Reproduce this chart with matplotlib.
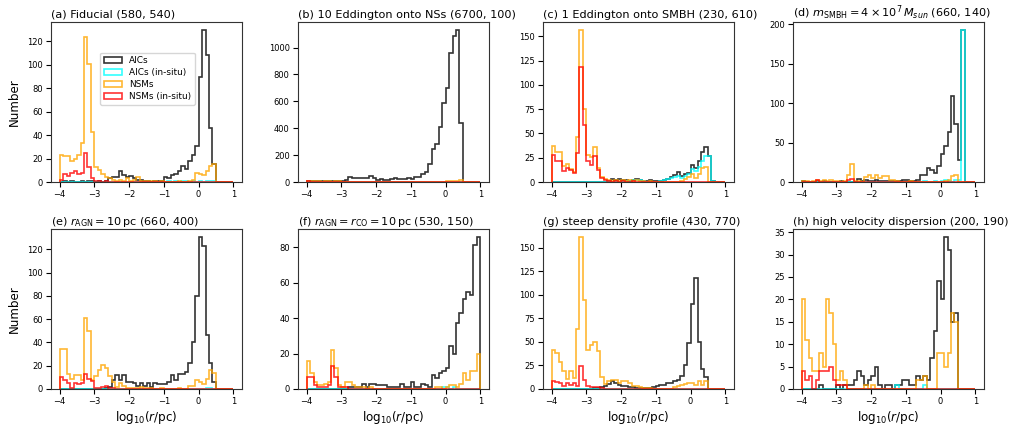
import numpy as np
import matplotlib
matplotlib.use("Agg")
import matplotlib.pyplot as plt
from matplotlib.ticker import MultipleLocator

# bins: 50 bins of width 0.1 from -4 to 1 in log10(r/pc)
bin_lo, bin_hi, nbins = -4.0, 1.0, 50

titles = [
    "(a) Fiducial (580, 540)",
    "(b) 10 Eddington onto NSs (6700, 100)",
    "(c) 1 Eddington onto SMBH (230, 610)",
    r"(d) $m_{\rm SMBH}=4\times10^7\,M_{sun}$ (660, 140)",
    r"(e) $r_{\rm AGN}=10\,{\rm pc}$ (660, 400)",
    r"(f) $r_{\rm AGN}=r_{\rm CO}=10\,{\rm pc}$ (530, 150)",
    "(g) steep density profile (430, 770)",
    "(h) high velocity dispersion (200, 190)",
]
series_labels = ["AICs", "AICs (in-situ)", "NSMs", "NSMs (in-situ)"]
ytick_steps = [20, 200, 25, 50, 20, 20, 25, 5]

# ---------------- (a) Fiducial ----------------
a_aic = [0,1,0,1,0,0,1,0,1,1,  0,1,0,1,3,4,4,9,6,4,  5,3,2,2,1,1,0,1,1,1,
         4,3,6,7,9,14,11,18,23,31,  90,130,108,46,15,0,0,0,0,0]
a_aic_insitu = [0]*31 + [1,0,1,0,1,1,0,1,0,1,0,1,1,1] + [0]*5
a_nsm = [23,22,22,18,20,23,33,124,101,43,  13,10,7,4,3,2,1,2,1,3,  1,2,4,1,1,1,1,1,0,1,
         0,0,0,0,1,0,0,1,2,8,  7,6,9,14,15,0,0,0,0,0]
a_nsm_insitu = [2,7,5,8,9,7,8,25,13,3,  1,1,0,1] + [0]*36

# ---------------- (b) 10 Eddington onto NSs ----------------
b_aic = [8,6,5,6,4,5,5,7,6,5,  10,18,35,28,28,28,28,30,45,32,  18,20,16,18,22,28,22,20,22,30,
         25,35,40,60,78,135,245,280,410,590,  698,957,1088,1133,435,0,0,0,0,0]
b_aic_insitu = [0]*32 + [2,1,0,0,0,0,1] + [0]*11
b_nsm = [6,5,4,5,3,6,4,3,5,4,  2,3,2,1,1,1,0,1,0,0] + [0]*19 + [3,5,6,8,10,12] + [0]*5
b_nsm_insitu = [4,3,2,2,0,0,0,1] + [0]*42

# ---------------- (c) 1 Eddington onto SMBH ----------------
c_aic = [0]*10 + [0,0,0,0,0,0,1,3,2,3,  2,2,1,2,3,2,1,1,2,1,
         1,1,2,3,5,7,10,6,8,9,  18,14,22,31,36,27,1,0,0,0]
c_aic_insitu = [0]*20 + [0,1,1,2,2,2,1,0,0,0,  0,1,2,3,4,5,6,4,6,8,
                         13,11,15,22,27,27,1,0,0,0]
c_nsm = [37,31,31,16,19,13,10,46,157,75,  28,26,36,14,5,3,2,1,2,1,  2,1,2,1,2,1,1,0,1,0,
         0,0,0,0,0,0,0,1,3,5,  8,4,8,14,15,0,0,0,0,0]
c_nsm_insitu = [28,22,22,11,14,12,9,30,118,59,  22,18,27,12,4,2,1,0,1,0,  1,0,0,1] + [0]*26

# ---------------- (d) m_SMBH = 4e7 ----------------
d_aic = [1,0,0,0,1,0,1,0,0,0,  0,1,0,0,0,0,4,1,2,1,  1,2,1,1,1,1,1,1,1,2,
         2,1,1,2,9,9,18,15,11,20,  36,45,63,109,73,28,193,0,0,0]
d_aic_insitu = [0]*35 + [1,0,0,1,0,  1,2,1,0,3,3,193,0,0,0]
d_nsm = [1,1,0,1,2,1,2,1,3,1,  1,0,1,9,23,1,1,0,6,9,  5,9,5,7,8,3,3,1,0,0,
         0,1,0,0,0,0,0,0,0,0,  0,1,3,8,9,0,0,0,0,0]
d_nsm_insitu = [0,0,0,0,2,0,0,0,0,0,  0,0,0,3,4] + [0]*35

# ---------------- (e) r_AGN = 10 pc ----------------
e_aic = [0]*10 + [0,0,0,1,2,8,12,8,12,6,  6,5,3,5,3,5,2,5,4,4,
                  4,6,12,8,13,13,15,22,40,80,  131,123,46,22,6,0,0,0,0,0]
e_aic_insitu = [0]*42 + [1,1] + [0]*6
e_nsm = [34,34,13,9,12,12,8,61,50,8,  11,16,21,18,11,6,2,5,3,1,  1,1,1,2,1,1,1,0,0,1,
         0,0,0,0,1,0,0,3,3,8,  6,4,9,16,14,0,0,0,0,0]
e_nsm_insitu = [10,8,5,1,5,4,5,13,9,7,  1,1,2,3,1,1] + [0]*34

# ---------------- (f) r_AGN = r_CO = 10 pc ----------------
f_aic = [0]*10 + [0,0,1,1,1,1,3,1,3,3,  2,2,2,1,1,1,1,3,1,1,
                  4,1,1,3,2,1,8,6,9,10,  12,24,20,37,43,51,55,53,81,86]
f_aic_insitu = [0]*39 + [1,1,0,1] + [0]*7
f_nsm = [16,9,4,2,2,3,4,22,12,2,  1,4,4,2,1,1,1,0,1,0] + [0]*17 + [1,1,0,
         1,2,2,1,3,9,5,10,10,20]
f_nsm_insitu = [7,7,2,1,1,1,2,13,7,1,  1,1] + [0]*38

# ---------------- (g) steep density profile ----------------
g_aic = [0]*10 + [0,0,1,1,2,3,5,8,6,4,  3,3,2,2,1,1,1,1,1,2,
                  3,4,4,6,6,8,10,14,25,49,  90,118,50,21,13,0,0,0,0,0]
g_aic_insitu = [0]*50
g_nsm = [41,38,29,19,11,19,12,64,162,95,  41,47,50,40,13,5,8,10,10,6,  8,9,6,3,3,2,1,1,1,0,
         0,0,0,0,0,2,3,4,5,6,  6,4,8,4,9,0,0,0,0,0]
g_nsm_insitu = [8,7,6,3,6,4,6,3,24,10,  3,2,2,2,1] + [0]*35

# ---------------- (h) high velocity dispersion ----------------
h_aic = [0,0,0,0,0,1,0,0,0,0,  1,0,1,1,1,2,4,3,1,2,  3,5,1,0,1,1,0,1,1,2,
         2,1,1,3,2,3,2,7,13,24,  20,34,31,15,17,0,0,0,0,0]
h_aic_insitu = [0]*27 + [1] + [0]*7 + [1] + [0]*14
h_nsm = [20,11,7,4,4,8,5,20,17,10,  2,4,2,0,0,0,0,0,1,0,  1,0,0,0,0,0,0,0,0,0,
         0,0,0,2,2,3,0,0,0,8,  8,5,8,17,15,0,0,0,0,0]
h_nsm_insitu = [4,2,3,0,2,4,4,4,5,2,  1,1,1] + [0]*37

panels = [
    (a_aic, a_aic_insitu, a_nsm, a_nsm_insitu),
    (b_aic, b_aic_insitu, b_nsm, b_nsm_insitu),
    (c_aic, c_aic_insitu, c_nsm, c_nsm_insitu),
    (d_aic, d_aic_insitu, d_nsm, d_nsm_insitu),
    (e_aic, e_aic_insitu, e_nsm, e_nsm_insitu),
    (f_aic, f_aic_insitu, f_nsm, f_nsm_insitu),
    (g_aic, g_aic_insitu, g_nsm, g_nsm_insitu),
    (h_aic, h_aic_insitu, h_nsm, h_nsm_insitu),
]

colors = ["black", "cyan", "orange", "red"]

edges = np.linspace(bin_lo, bin_hi, nbins + 1)
centers = 0.5 * (edges[:-1] + edges[1:])

fig = plt.figure(figsize=(10.35, 4.32), dpi=100)
W, H = 1035.0, 432.0
lefts = [51, 298, 543, 793]
tops = [22, 229]
aw, ah = 191, 160

for i, (series, title, step) in enumerate(zip(panels, titles, ytick_steps)):
    r, c = divmod(i, 4)
    ax = fig.add_axes([lefts[c] / W, 1 - (tops[r] + ah) / H, aw / W, ah / H])
    for vals, col, lab in zip(series, colors, series_labels):
        ax.hist(centers, bins=edges, weights=np.asarray(vals, float),
                histtype="step", color=col, lw=1.2, alpha=0.8, label=lab)
    ax.set_title(title, loc="left", fontsize=8.1, pad=3)
    ax.xaxis.set_major_locator(MultipleLocator(1))
    ax.yaxis.set_major_locator(MultipleLocator(step))
    ax.tick_params(labelsize=6, length=3.5, width=0.8, pad=2.5)
    for sp in ax.spines.values():
        sp.set_linewidth(0.8)
        sp.set_color("#333333")
    if c == 0:
        ax.set_ylabel("Number", fontsize=8.6)
    if r == 1:
        ax.set_xlabel(r"log$_{10}$($r$/pc)", fontsize=8.6, labelpad=2)
    if i == 0:
        ax.legend(loc="center", bbox_to_anchor=(0.505, 0.645), fontsize=6.4,
                  handlelength=2.0, borderpad=0.4, labelspacing=0.35)

fig.savefig("out.png", dpi=100)
